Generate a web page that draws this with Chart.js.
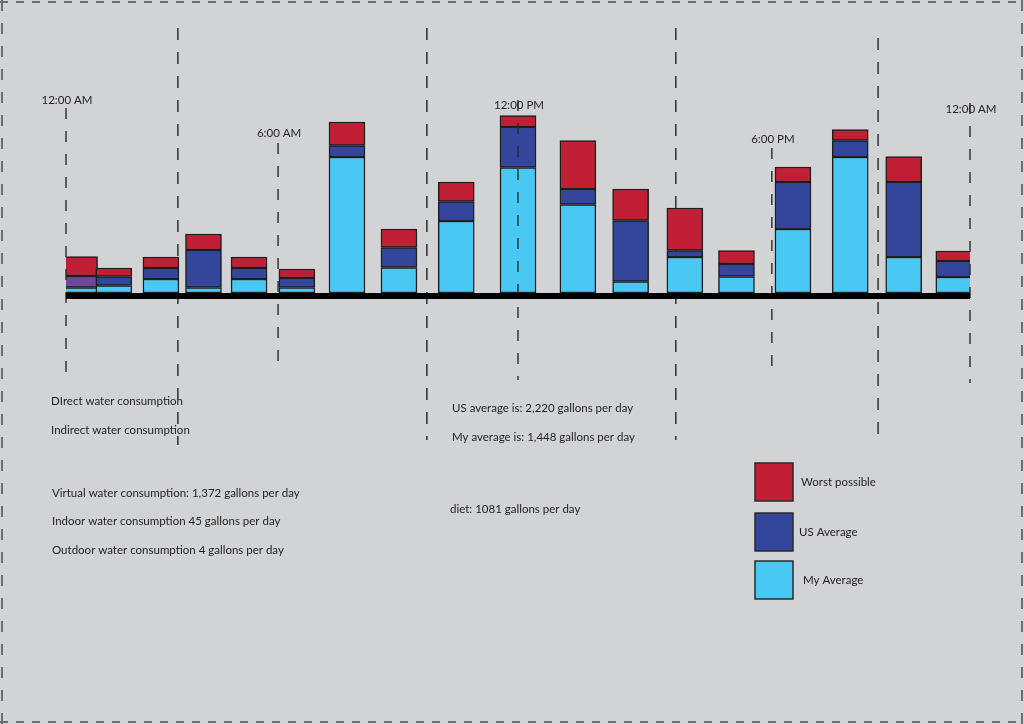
<!DOCTYPE html>
<html>
<head>
<meta charset="utf-8">
<title>Water consumption over a day</title>
<script src="https://cdn.jsdelivr.net/npm/chart.js@4.4.1/dist/chart.umd.min.js"></script>
<style>
  html, body { margin: 0; padding: 0; background: #d1d3d4; }
  canvas { display: block; }
</style>
</head>
<body>
<canvas id="water-chart" width="1024" height="724"></canvas>
<script>
(function () {
    "use strict";

    // Bar positions, as hour of the day
    var hours = [0.36, 1.27, 2.52, 3.65, 4.86, 6.13, 7.46, 8.84, 10.36,
                 12.0, 13.59, 14.99, 16.43, 17.80, 19.30, 20.82, 22.24, 23.57];

    // Stacked segments, bottom to top
    var myAverage     = [5.5, 7.5, 14, 5.5, 14, 5.5, 136, 25.5, 72, 125.5, 88.5, 11.5, 36, 16.5, 64, 136, 36, 16];
    var usAverage     = [11.5, 9, 11, 37.5, 11, 9.5, 11.5, 20, 19.5, 40.5, 15.5, 61, 6.5, 12.5, 47, 16.5, 75, 16];
    var worstPossible = [19.5, 8.5, 11, 16, 11, 9, 23.5, 18.5, 19.5, 11.5, 48.5, 31.5, 42.5, 13.5, 15, 11, 25.5, 10];

    // Time markers and section dividers
    var markerHours  = [0, 5.63, 12, 18.74, 24];
    var markerLabels = ["12:00 AM", "6:00 AM", "12:00 PM", "6:00 PM", "12:00 AM"];
    var dividerHours = [2.97, 9.58, 16.19, 21.56];

    // Notes
    var leftNotes = ["DIrect water consumption", "Indirect water consumption",
                     "Virtual water consumption: 1,372 gallons per day",
                     "Indoor water consumption 45 gallons per day",
                     "Outdoor water consumption 4 gallons per day"];
    var middleNotes = ["US average is: 2,220 gallons per day",
                       "My average is: 1,448 gallons per day",
                       "diet: 1081 gallons per day"];

    // Layout / style (kept apart from the data)
    var BG = "#d1d3d4";
    var INK = "#231f20";
    var FONT = "11.5px Lato, 'Open Sans', sans-serif";
    var RED = "#c11f36", DARK = "#33469b", LIGHT = "#4ac8f4", PURPLE = "#6a4a98";
    var markerLayout = [
        {labelY: 100, top: 108, bottom: 380},
        {labelY: 133, top: 143, bottom: 368},
        {labelY: 105, top: 100, bottom: 380},
        {labelY: 139, top: 148, bottom: 372},
        {labelY: 109, top: 103, bottom: 383}
    ];
    var dividerLayout = [[28, 445], [28, 440], [28, 440], [38, 435]];
    var leftNoteY = [401, 430, 493, 521, 550];
    var middleNoteY = [408, 437, 509];
    var legendRows = [
        {name: "Worst possible", color: RED,   y: 463, textX: 801},
        {name: "US Average",     color: DARK,  y: 513, textX: 799},
        {name: "My Average",     color: LIGHT, y: 561, textX: 803}
    ];

    function points(values) {
        return values.map(function (v, i) { return {x: hours[i], y: v}; });
    }

    function dashedLine(ctx, x, y1, y2, dash, color, width) {
        ctx.save();
        ctx.strokeStyle = color;
        ctx.lineWidth = width;
        ctx.setLineDash(dash);
        ctx.beginPath();
        ctx.moveTo(x, y1);
        ctx.lineTo(x, y2);
        ctx.stroke();
        ctx.restore();
    }

    var decor = {
        id: "decor",
        beforeDraw: function (chart) {
            var ctx = chart.ctx;
            ctx.save();
            ctx.fillStyle = BG;
            ctx.fillRect(0, 0, chart.width, chart.height);
            ctx.strokeStyle = "#6d6e70";
            ctx.lineWidth = 2;
            ctx.setLineDash([8, 8]);
            ctx.beginPath();
            ctx.moveTo(0, 2); ctx.lineTo(chart.width, 2);
            ctx.moveTo(0, chart.height - 2); ctx.lineTo(chart.width, chart.height - 2);
            ctx.stroke();
            ctx.setLineDash([11, 12]);
            ctx.beginPath();
            ctx.moveTo(2, 0); ctx.lineTo(2, chart.height);
            ctx.moveTo(chart.width - 2, 0); ctx.lineTo(chart.width - 2, chart.height);
            ctx.stroke();
            ctx.restore();
        },
        beforeDatasetsDraw: function (chart) {
            var x = chart.scales.x;
            dividerHours.forEach(function (h, i) {
                dashedLine(chart.ctx, x.getPixelForValue(h), dividerLayout[i][0], dividerLayout[i][1],
                           [12, 12], "#3a3a3a", 1.6);
            });
        },
        afterDatasetsDraw: function (chart) {
            var ctx = chart.ctx, x = chart.scales.x, y = chart.scales.y;
            var y0 = y.getPixelForValue(0);

            // markers
            markerHours.forEach(function (h, i) {
                var px = x.getPixelForValue(h), m = markerLayout[i];
                dashedLine(ctx, px, m.top, m.bottom, [11, 12], "#2b2b2b", 1.4);
                ctx.save();
                ctx.font = FONT;
                ctx.fillStyle = INK;
                ctx.textAlign = "center";
                ctx.textBaseline = "middle";
                ctx.fillText(markerLabels[i], px + 1, m.labelY);
                ctx.restore();
            });

            // thick baseline
            ctx.save();
            ctx.fillStyle = "#000";
            ctx.fillRect(x.getPixelForValue(0), y0, x.getPixelForValue(24) - x.getPixelForValue(0), 6);
            ctx.restore();

            // notes
            ctx.save();
            ctx.font = FONT;
            ctx.fillStyle = INK;
            ctx.textBaseline = "middle";
            leftNotes.forEach(function (t, i) { ctx.fillText(t, i < 2 ? 51 : 52, leftNoteY[i]); });
            middleNotes.forEach(function (t, i) { ctx.fillText(t, i < 2 ? 452 : 450, middleNoteY[i]); });

            // legend
            legendRows.forEach(function (r) {
                ctx.fillStyle = r.color;
                ctx.fillRect(755, r.y, 38, 38);
                ctx.strokeStyle = "#2b2b2b";
                ctx.lineWidth = 1.5;
                ctx.strokeRect(755, r.y, 38, 38);
                ctx.fillStyle = INK;
                ctx.fillText(r.name, r.textX, r.y + 19);
            });
            ctx.restore();
        }
    };

    var usColors = usAverage.map(function (v, i) { return i === 0 ? PURPLE : DARK; });

    new Chart(document.getElementById("water-chart"), {
        type: "bar",
        data: {
            datasets: [
                {label: seriesNames()[0], data: points(myAverage), backgroundColor: LIGHT},
                {label: seriesNames()[1], data: points(usAverage), backgroundColor: usColors},
                {label: seriesNames()[2], data: points(worstPossible), backgroundColor: RED}
            ]
        },
        options: {
            responsive: false,
            animation: false,
            events: [],
            layout: {padding: {left: 66, right: 54, top: 93, bottom: 431}},
            datasets: {
                bar: {barThickness: 36, borderWidth: 1.5, borderColor: "#1e1e1e", borderSkipped: false}
            },
            scales: {
                x: {type: "linear", min: 0, max: 24, offset: false, stacked: true, display: false},
                y: {min: 0, max: 200, stacked: true, display: false}
            },
            plugins: {legend: {display: false}, tooltip: {enabled: false}}
        },
        plugins: [decor]
    });

    function seriesNames() {
        return ["My Average", "US Average", "Worst possible"];
    }
})();
</script>
</body>
</html>
